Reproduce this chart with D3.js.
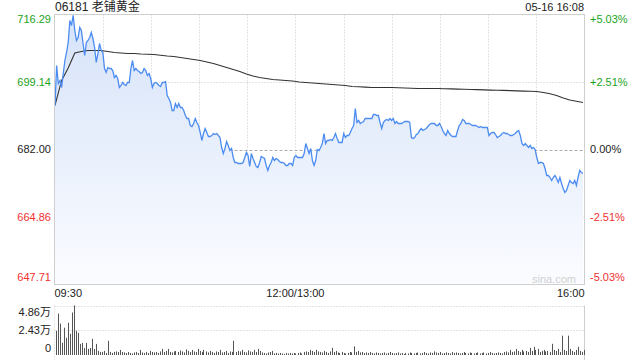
<!DOCTYPE html>
<html>
<head>
<meta charset="utf-8">
<script src="https://cdn.jsdelivr.net/npm/d3@7"></script>
<style>
  body { margin: 0; background: #fff; }
  #container { width: 640px; height: 360px; }
  text { font-family: "Liberation Sans", Arial, "Noto Sans CJK SC", sans-serif; }
</style>
</head>
<body>
<div id="container"></div>
<script>
var width = 640,
    height = 360;

// ---- data ----
var title = "06181 老铺黄金",
    stamp = "05-16 16:08",
    prevClose = 682.00;

var priceTicks = [716.29, 699.14, 682.00, 664.86, 647.71];
var pctLabels = ["+5.03%", "+2.51%", "0.00%", "-2.51%", "-5.03%"];
var timeTicks = [0, 30, 60, 90, 120, 150, 180, 210, 240, 270, 300, 330];
var timeLabels = [[0, "09:30"], [150, "12:00/13:00"], [330, "16:00"]];
var volTicks = [4.86, 2.43, 0];
var volLabels = ["4.86万", "2.43万", "0"];

var prices = [
    693.18, 703.34, 698.76, 699.53, 697.75, 701.30, 704.61, 706.64, 709.18, 714.77,
    713.50, 716.10, 712.23, 709.69, 710.45, 712.99, 712.23, 708.92, 705.88, 709.18,
    709.69, 710.45, 711.72, 710.19, 707.91, 704.10, 706.38, 708.92, 707.15, 706.64,
    702.57, 701.56, 702.83, 702.57, 702.57, 702.07, 700.29, 700.80, 700.03, 697.75,
    698.26, 699.02, 698.51, 698.26, 699.02, 699.02, 702.57, 704.61, 702.07, 702.57,
    702.07, 701.81, 701.30, 701.56, 702.57, 702.07, 700.80, 701.30, 700.03, 697.75,
    698.76, 699.02, 698.76, 698.26, 698.00, 699.02,
    699.02, 699.27, 695.72, 694.95, 693.94, 691.91, 691.91, 693.68, 692.67, 693.68,
    692.67, 692.67, 691.91, 690.64, 689.87, 689.87, 688.10, 687.84, 688.60, 689.87,
    688.86, 688.10, 686.32, 684.29, 686.06, 687.33, 686.32, 685.30, 685.30, 685.56,
    686.06, 685.81, 686.06, 685.56, 685.05, 682.51, 680.98, 682.25, 684.03, 683.02,
    681.75, 682.25, 679.97, 678.70, 678.70, 678.44, 678.44, 678.44, 678.70, 679.97,
    681.24, 680.48, 677.68, 680.98, 679.71,
    678.70, 677.68, 677.43, 678.70, 680.22, 679.97, 679.71, 677.94, 676.67, 677.94,
    678.70, 679.97, 679.21, 679.71, 679.46, 678.95, 678.70, 678.70, 678.44, 677.94,
    677.94, 678.44, 678.44, 677.94, 679.97, 680.48, 679.97, 679.97, 679.97, 679.97,
    680.98, 683.52, 682.25, 680.98, 682.25, 679.21, 677.94, 679.21, 682.00, 681.75,
    682.51, 683.52, 686.06, 683.52, 684.29, 684.29, 684.54, 684.29, 685.05, 686.06,
    684.79, 683.78, 683.78, 683.78, 686.06, 685.05, 685.56, 685.56, 686.32, 687.33,
    688.10, 692.41, 688.86, 689.37, 688.60, 688.86, 689.11, 689.87, 689.87, 689.87,
    689.87, 689.87, 690.89, 690.89, 690.64, 690.64, 688.86, 687.33, 688.86, 689.37,
    689.62, 689.37, 689.87, 689.37, 689.87, 688.60, 689.11, 688.60, 688.60, 688.60,
    688.86, 689.11, 689.11, 689.11, 688.86, 685.05, 684.79, 685.05, 685.81, 686.06,
    686.83, 687.33, 686.83, 687.08, 687.33, 687.84, 688.35, 688.60, 688.60, 688.60,
    688.10, 688.10, 688.60, 687.84, 686.83, 686.06, 685.56, 686.83, 686.06, 685.56,
    685.30, 685.30, 685.30, 686.83, 688.10, 688.60,
    689.62, 689.37, 688.60, 688.60, 688.60, 688.35, 688.10, 688.10, 688.10, 687.84,
    687.59, 687.84, 687.59, 687.59, 687.59, 687.59, 685.56, 686.06, 686.32, 686.32,
    685.81, 685.05, 685.30, 685.56, 686.06, 686.32, 686.06, 686.06, 685.81, 685.56,
    685.56, 685.81, 686.06, 686.57, 686.83, 685.56, 683.52, 683.02, 683.52, 683.02,
    682.51, 683.02, 682.25, 682.51, 682.00, 679.97, 678.44, 678.70, 678.70, 678.44,
    677.17, 675.40, 675.40, 674.89, 674.13, 674.89, 675.40, 674.63, 673.62, 674.89,
    673.36, 672.09, 671.08, 671.59, 672.86, 674.13, 673.62, 673.36, 674.13, 672.86,
    674.89, 676.67, 676.16, 675.90
];

var avgPrices = [
    693.18, 699.53, 702.70, 706.51, 706.89, 707.15, 707.15, 707.15, 706.89, 706.64,
    706.51, 706.38, 706.38, 706.26, 706.21, 706.13, 705.95, 705.75, 705.62, 705.37,
    705.11, 704.86, 704.61, 704.23, 703.85, 703.34, 702.83, 702.32, 701.81, 701.18,
    700.67, 700.29, 700.03, 699.78, 699.65, 699.53, 699.40, 699.15, 699.02, 698.89,
    698.76, 698.64, 698.51, 698.38, 698.26, 698.00, 697.93, 697.85, 697.75, 697.75,
    697.75, 697.75, 697.70, 697.62, 697.57, 697.49, 697.49, 697.49, 697.49, 697.44,
    697.39, 697.34, 697.29, 697.24, 697.21, 697.14, 697.09, 697.06, 697.01, 696.96,
    696.88, 696.83, 696.78, 696.73, 696.48, 696.15, 695.72, 695.08, 694.58, 694.27,
    693.94
];

// volume in 万 shares
var volumes = [
    2.38, 4.07, 3.08, 1.19, 2.68, 1.69, 3.17, 2.08, 4.17, 4.86, 2.38, 2.18, 1.09, 1.19, 0.69,
    1.19, 0.60, 0.69, 1.59, 0.60, 1.09, 0.40, 0.30, 0.30, 0.40, 0.20, 1.39, 0.30, 0.20, 0.30,
    0.35, 0.30, 0.50, 0.30, 0.25, 0.20, 0.30, 0.20, 0.15, 0.25, 0.30, 0.20, 0.50, 0.25, 0.20,
    0.30, 0.20, 0.40, 0.30, 0.25, 0.30, 0.20, 0.35, 0.60, 0.30, 0.40, 0.60, 0.30, 0.25, 0.35,
    0.40, 0.30, 0.45, 0.35, 0.25, 0.55, 0.40, 0.30, 0.50, 0.35, 0.30, 0.60, 0.40, 0.30, 0.50,
    0.35, 0.25, 0.40, 0.30, 0.20, 0.35, 0.30, 0.50, 0.25, 0.30, 0.40, 0.20, 0.35, 0.30, 1.40,
    0.30, 0.40, 0.35, 0.50, 0.30, 0.25, 0.45, 0.35, 0.30, 0.50, 0.30, 0.60, 0.40, 0.25, 0.20,
    0.15, 0.25, 0.30, 0.40, 0.15, 0.20, 0.15, 0.20, 0.15, 0.10, 0.20, 0.15, 0.20, 0.15, 0.20,
    0.15, 0.20, 0.25, 0.15, 0.30, 0.35, 0.30, 0.50, 0.40, 0.30, 0.50, 0.35, 0.30, 0.25, 0.40,
    0.30, 0.20, 0.35, 0.70, 0.30, 0.40, 0.25, 0.20, 0.30, 0.20, 0.15, 0.20, 0.30, 0.25, 0.85,
    0.30, 0.40, 0.25, 0.30, 0.20, 0.25, 0.20, 0.30, 0.20, 0.15, 0.25, 0.20, 0.15, 0.20, 0.25,
    0.15, 0.20, 0.30, 0.20, 0.15, 0.20, 0.25, 0.15, 0.20, 0.10, 0.20, 0.15, 0.25, 0.20, 0.15,
    0.20, 0.25, 0.15, 0.20, 0.30, 0.20, 0.15, 0.25, 0.20, 0.35, 0.25, 0.20, 0.30, 0.15, 0.20,
    0.25, 0.20, 0.15, 0.30, 0.20, 0.25, 0.20, 0.15, 0.20, 0.30, 0.20, 0.15, 0.25, 0.20, 0.15,
    0.20, 0.25, 0.15, 0.20, 0.25, 0.15, 0.20, 0.30, 0.20, 0.15, 0.20, 0.25, 0.20, 0.15, 0.30,
    0.35, 0.25, 0.50, 0.30, 0.35, 0.60, 0.40, 0.30, 0.50, 0.35, 0.40, 0.30, 0.70, 0.40, 0.80,
    0.50, 0.60, 0.30, 0.40, 0.50, 0.35, 0.40, 0.30, 1.10, 0.50, 0.40, 0.60, 0.30, 1.90, 0.50,
    0.40, 1.90, 0.60, 0.40, 0.30, 0.50, 0.80, 0.40, 0.30, 0.50
];

var green = "#1ba31b",
    red = "#f03030",
    text = "#222";

var plot = { left: 54.5, right: 584.5, top: 14.5, bottom: 284.5 };
var volBox = { top: 305.5, bottom: 355 };

var svg = d3.select("#container")
    .append("svg")
    .attr("width", width)
    .attr("height", height);

var defs = svg.append("defs");
var grad = defs.append("linearGradient")
    .attr("id", "areaFill")
    .attr("x1", 0).attr("y1", 0).attr("x2", 0).attr("y2", 1);
grad.append("stop").attr("offset", "0%").attr("stop-color", "#d6e3f9");
grad.append("stop").attr("offset", "100%").attr("stop-color", "#fbfcff");

var xTime = d3.scaleLinear().domain([0, 330]).range([plot.left, plot.right]);
var xPrice = d3.scaleLinear().domain([0, prices.length - 1]).range([55, 583]);
var xAvg = d3.scaleLinear().domain([0, avgPrices.length - 1]).range([55, 583]);
var xVol = d3.scaleLinear().domain([0, volumes.length - 1]).range([55.5, 583.5]);
var y = d3.scaleLinear().domain([priceTicks[4], priceTicks[0]]).range([plot.bottom, plot.top]);
var yVol = d3.scaleLinear().domain([0, volTicks[0]]).range([volBox.bottom, volBox.top]);

var gridG = svg.append("g"),
    areaG = svg.append("g"),
    lineG = svg.append("g"),
    labelG = svg.append("g"),
    volG = svg.append("g");

// area under price
areaG.append("path")
    .datum(prices)
    .attr("d", d3.area()
        .x(function (d, i) { return xPrice(i); })
        .y0(plot.bottom)
        .y1(function (d) { return y(d); }))
    .attr("fill", "url(#areaFill)");

// grid
gridG.selectAll(".hgrid")
    .data(priceTicks.slice(1, 4))
    .enter().append("line")
    .attr("class", "hgrid")
    .attr("x1", plot.left).attr("x2", plot.right)
    .attr("y1", function (d) { return Math.round(y(d)) + 0.5; })
    .attr("y2", function (d) { return Math.round(y(d)) + 0.5; })
    .attr("stroke", function (d) { return d === prevClose ? "#aaa" : "#c8c8c8"; })
    .attr("stroke-dasharray", function (d) { return d === prevClose ? "3,2" : "1,2"; });

gridG.selectAll(".vgrid")
    .data(timeTicks.slice(1, timeTicks.length - 1))
    .enter().append("line")
    .attr("class", "vgrid")
    .attr("x1", function (d) { return Math.round(xTime(d)) + 0.5; })
    .attr("x2", function (d) { return Math.round(xTime(d)) + 0.5; })
    .attr("y1", plot.top).attr("y2", plot.bottom)
    .attr("stroke", "#c8c8c8")
    .attr("stroke-dasharray", "1,2");

// lines
lineG.append("path")
    .datum(avgPrices)
    .attr("d", d3.line()
        .x(function (d, i) { return xAvg(i); })
        .y(function (d) { return y(d); }))
    .attr("fill", "none")
    .attr("stroke", "#333")
    .attr("stroke-width", 1.1);

lineG.append("path")
    .datum(prices)
    .attr("d", d3.line()
        .x(function (d, i) { return xPrice(i); })
        .y(function (d) { return y(d); }))
    .attr("fill", "none")
    .attr("stroke", "#4c8cf0")
    .attr("stroke-width", 1.3);

// frame
svg.append("rect")
    .attr("x", plot.left).attr("y", plot.top)
    .attr("width", plot.right - plot.left)
    .attr("height", plot.bottom - plot.top)
    .attr("fill", "none")
    .attr("stroke", "#cfcfcf");

svg.append("text")
    .attr("x", 532).attr("y", 283)
    .attr("font-size", 11)
    .attr("fill", "#d0d0d0")
    .text("sina.com");

// left / right labels
function tickColor(d) {
    if (d > prevClose) return green;
    if (d < prevClose) return red;
    return text;
}
function tickShift(i) {
    if (i === 0) return 5;
    if (i === priceTicks.length - 1) return -7;
    return 0;
}

labelG.selectAll(".pl")
    .data(priceTicks)
    .enter().append("text")
    .attr("class", "pl")
    .attr("x", 51)
    .attr("y", function (d, i) { return y(d) + tickShift(i); })
    .attr("dy", "0.35em")
    .attr("text-anchor", "end")
    .attr("font-size", 11)
    .attr("fill", tickColor)
    .text(function (d) { return d.toFixed(2); });

labelG.selectAll(".pr")
    .data(priceTicks)
    .enter().append("text")
    .attr("class", "pr")
    .attr("x", 590)
    .attr("y", function (d, i) { return y(d) + tickShift(i); })
    .attr("dy", "0.35em")
    .attr("font-size", 11)
    .attr("fill", tickColor)
    .text(function (d, i) { return pctLabels[i]; });

labelG.selectAll(".tl")
    .data(timeLabels)
    .enter().append("text")
    .attr("class", "tl")
    .attr("x", function (d) { return xTime(d[0]); })
    .attr("y", 297)
    .attr("text-anchor", function (d, i) { return i === 0 ? "start" : (i === timeLabels.length - 1 ? "end" : "middle"); })
    .attr("font-size", 11)
    .attr("fill", text)
    .text(function (d) { return d[1]; });

labelG.append("text")
    .attr("x", 55).attr("y", 11)
    .attr("font-size", 12)
    .attr("fill", text)
    .text(title);

labelG.append("text")
    .attr("x", 584).attr("y", 11)
    .attr("text-anchor", "end")
    .attr("font-size", 11)
    .attr("fill", text)
    .text(stamp);

// volume panel
volG.selectAll(".vg")
    .data(volTicks.slice(0, 2))
    .enter().append("line")
    .attr("class", "vg")
    .attr("x1", plot.left).attr("x2", plot.right)
    .attr("y1", function (d) { return Math.round(yVol(d)) + 0.5; })
    .attr("y2", function (d) { return Math.round(yVol(d)) + 0.5; })
    .attr("stroke", "#c8c8c8")
    .attr("stroke-dasharray", "1,2");

volG.append("line")
    .attr("x1", plot.right).attr("x2", plot.right)
    .attr("y1", volBox.top).attr("y2", height)
    .attr("stroke", "#cfcfcf");
volG.append("line")
    .attr("x1", plot.left).attr("x2", plot.left)
    .attr("y1", volBox.top).attr("y2", height)
    .attr("stroke", "#cfcfcf")
    .attr("stroke-dasharray", "1,2");

volG.selectAll(".bar")
    .data(volumes)
    .enter().append("rect")
    .attr("class", "bar")
    .attr("x", function (d, i) { return Math.round(xVol(i)); })
    .attr("y", function (d) { return yVol(d); })
    .attr("width", 1)
    .attr("height", function (d) { return volBox.bottom - yVol(d); })
    .attr("fill", "#555");

volG.selectAll(".vl")
    .data(volTicks)
    .enter().append("text")
    .attr("class", "vl")
    .attr("x", 51)
    .attr("y", function (d, i) { return yVol(d) + (i === 0 ? 7 : (i === 2 ? -7 : 0)); })
    .attr("dy", "0.35em")
    .attr("text-anchor", "end")
    .attr("font-size", 11)
    .attr("fill", text)
    .text(function (d, i) { return volLabels[i]; });
</script>
</body>
</html>
